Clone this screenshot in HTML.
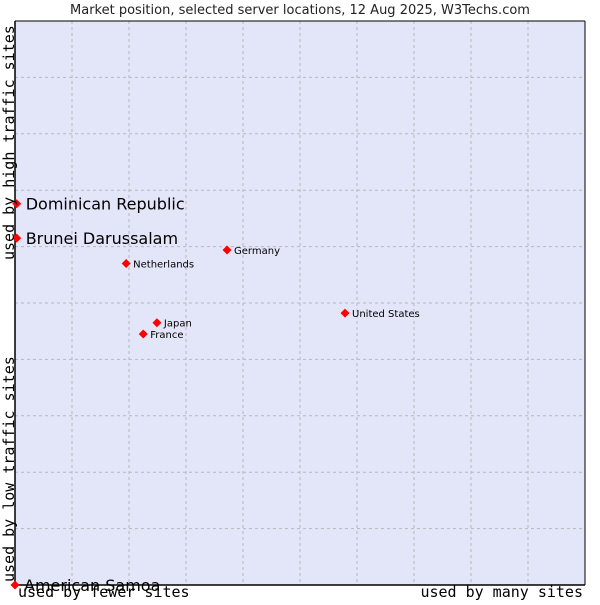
<!DOCTYPE html>
<html><head><meta charset="utf-8"><style>
body{margin:0;background:#fff;}
svg text{font-family:"DejaVu Sans",sans-serif;}
</style></head><body>
<svg width="600" height="600">
<text x="300" y="14" text-anchor="middle" font-size="13" fill="#222">Market position, selected server locations, 12 Aug 2025, W3Techs.com</text>
<rect x="15" y="21" width="570" height="564" fill="#e3e5f8"/>
<g id="grid"></g>
<line x1="15" y1="21" x2="15" y2="585" stroke="#000" stroke-width="1.5"/>
<line x1="15" y1="585" x2="585" y2="585" stroke="#000" stroke-width="1.5"/>
<line x1="15" y1="21" x2="585" y2="21" stroke="#000" stroke-width="1"/>
<line x1="585" y1="21" x2="585" y2="585" stroke="#000" stroke-width="1"/>
<g id="points"></g>
<text transform="translate(14,260) rotate(-90)" font-family="DejaVu Sans Mono" font-size="15" fill="#000" style="font-family:'DejaVu Sans Mono',monospace">used by high traffic sites</text>
<text transform="translate(14,582) rotate(-90)" font-size="15" fill="#000" style="font-family:'DejaVu Sans Mono',monospace">used by low traffic sites</text>
<text x="18" y="597" font-size="15" fill="#000" style="font-family:'DejaVu Sans Mono',monospace">used by fewer sites</text>
<text x="583" y="597" text-anchor="end" font-size="15" fill="#000" style="font-family:'DejaVu Sans Mono',monospace">used by many sites</text>
</svg>
<script>
const names=["Dominican Republic","Brunei Darussalam","Netherlands","Germany","United States","Japan","France","American Samoa"];
const xVals=[0.3,0.3,19.5,37.2,57.9,24.9,22.5,0];
const yVals=[67.6,61.5,57.0,59.4,48.2,46.5,44.5,0];
const bigLabel=[true,true,false,false,false,false,false,true];
const L=15,T=21,W=570,H=564;
const sx=v=>L+v/100*W, sy=v=>T+H-v/100*H;
const ns="http://www.w3.org/2000/svg";
const grid=document.getElementById('grid');
for(let i=1;i<10;i++){
  const vl=document.createElementNS(ns,'line');
  vl.setAttribute('x1',sx(i*10));vl.setAttribute('x2',sx(i*10));vl.setAttribute('y1',T);vl.setAttribute('y2',T+H);
  vl.setAttribute('stroke','#b8b8b8');vl.setAttribute('stroke-dasharray','3,3');
  
  
  grid.appendChild(vl);
  const hl=document.createElementNS(ns,'line');
  hl.setAttribute('y1',sy(i*10));hl.setAttribute('y2',sy(i*10));hl.setAttribute('x1',L);hl.setAttribute('x2',L+W);
  hl.setAttribute('stroke','#b8b8b8');hl.setAttribute('stroke-dasharray','3,3');
  
  
  grid.appendChild(hl);
}
const pts=document.getElementById('points');
names.forEach((n,i)=>{
  const x=sx(xVals[i]),y=sy(yVals[i]);
  const d=document.createElementNS(ns,'path');
  d.setAttribute('d',`M${x} ${y-4.5}L${x+4.5} ${y}L${x} ${y+4.5}L${x-4.5} ${y}Z`);
  d.setAttribute('fill','#f00');
  
  
  pts.appendChild(d);
  const t=document.createElementNS(ns,'text');
  t.setAttribute('x',x+(bigLabel[i]?9:7));
  t.setAttribute('y',y+(bigLabel[i]?6:4));
  t.setAttribute('font-size',bigLabel[i]?'16':'10');
  t.setAttribute('fill','#000');
  t.textContent=n;
  
  
  pts.appendChild(t);
});
</script>
</body></html>
